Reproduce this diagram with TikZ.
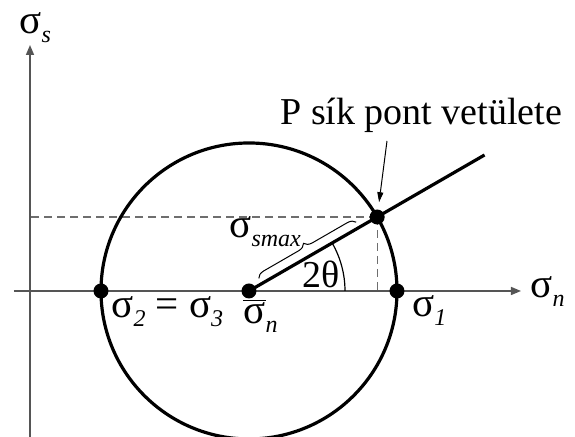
\documentclass[tikz,border=0pt]{standalone}
\usepackage{fontspec}
\setmainfont{Liberation Serif}
\definecolor{AxisGray}{HTML}{555555}
\definecolor{DashGray}{HTML}{6E6E6E}
\usetikzlibrary{
  positioning, arrows.meta, calc, decorations.pathreplacing
}
\newcommand{\lowsub}[1]{\raisebox{-0.45ex}{\fontsize{12}{12}\selectfont\itshape #1}}

\begin{document}
\begin{tikzpicture}[x=0.5pt, y=0.5pt,
  axis/.style={draw=AxisGray, line width=0.75pt, -{Triangle[length=5pt,width=4pt]}},
  guide/.style={draw=DashGray, line width=0.6pt, dash pattern=on 4pt off 2.5pt},
  bold line/.style={line width=1.6pt},
  dot/.style={circle, fill=black, inner sep=0pt, minimum size=7.5pt},
  lbl/.style={inner sep=0pt, anchor=base west, font=\fontsize{20.5}{24}\selectfont}]
  \useasboundingbox (0,0) rectangle (575,437);
  \clip (0,0) rectangle (575,437);
  % Mohr circle points
  \coordinate (O) at (249,146);
  \coordinate (S2) at (101,146);
  \coordinate (S1) at (397,146);
  \coordinate (P) at ($(O)+(30:148)$);
  \coordinate (E) at ($(O)+(30:272)$);
  % Axes
  \coordinate (xa0) at (14,146);
  \coordinate (xa1) at (521,146);
  \coordinate (ya0) at (30,0);
  \coordinate (ya1) at (30,392);
  \draw[axis] (xa0) -- (xa1);
  \draw[axis] (ya0) -- (ya1);
  % Projections of P
  \draw[guide] (P) -- (P -| ya0);
  \draw[guide] (P) -- (P |- O);
  % Circle and radius
  \draw[bold line] (O) circle[radius=148];
  \draw[bold line] (O) -- (E);
  \draw[line width=0.6pt] ($(O)+(96,0)$) arc[start angle=0, end angle=30, radius=96];
  \draw[line width=0.5pt, decorate, decoration={brace, amplitude=4pt, raise=3pt}]
    ($(O)!0.1!(P)$) -- ($(O)!0.86!(P)$);
  \foreach \pt in {O,S1,S2,P} {
    \node[dot] (d\pt) at (\pt) {};
  }
  % Labels
  \node[lbl] (ss) at (19,403) {σ\lowsub{s}};
  \node[lbl] (sn) at (530,139) {σ\lowsub{n}};
  \node[lbl] (s23) at (111,119) {σ\lowsub{2} = σ\lowsub{3}};
  \node[lbl] (snbar) at (243,113) {$\overline{\mbox{σ}}$\lowsub{n}};
  \node[lbl] (s1) at (412,120) {σ\lowsub{1}};
  \node[lbl] (smax) at (229,199) {σ\lowsub{smax}};
  \node[lbl, font=\fontsize{19}{22}\selectfont] (ang) at (302,149) {2θ};
  \node[lbl, font=\fontsize{19}{22}\selectfont] (plbl) at (280,312) {P sík pont vetülete};
  \coordinate (ptr) at (387,296);
  \draw[line width=0.5pt, -{Triangle[length=5pt,width=3pt]}, shorten >=3.5pt] (ptr) -- (dP);
\end{tikzpicture}
\end{document}
